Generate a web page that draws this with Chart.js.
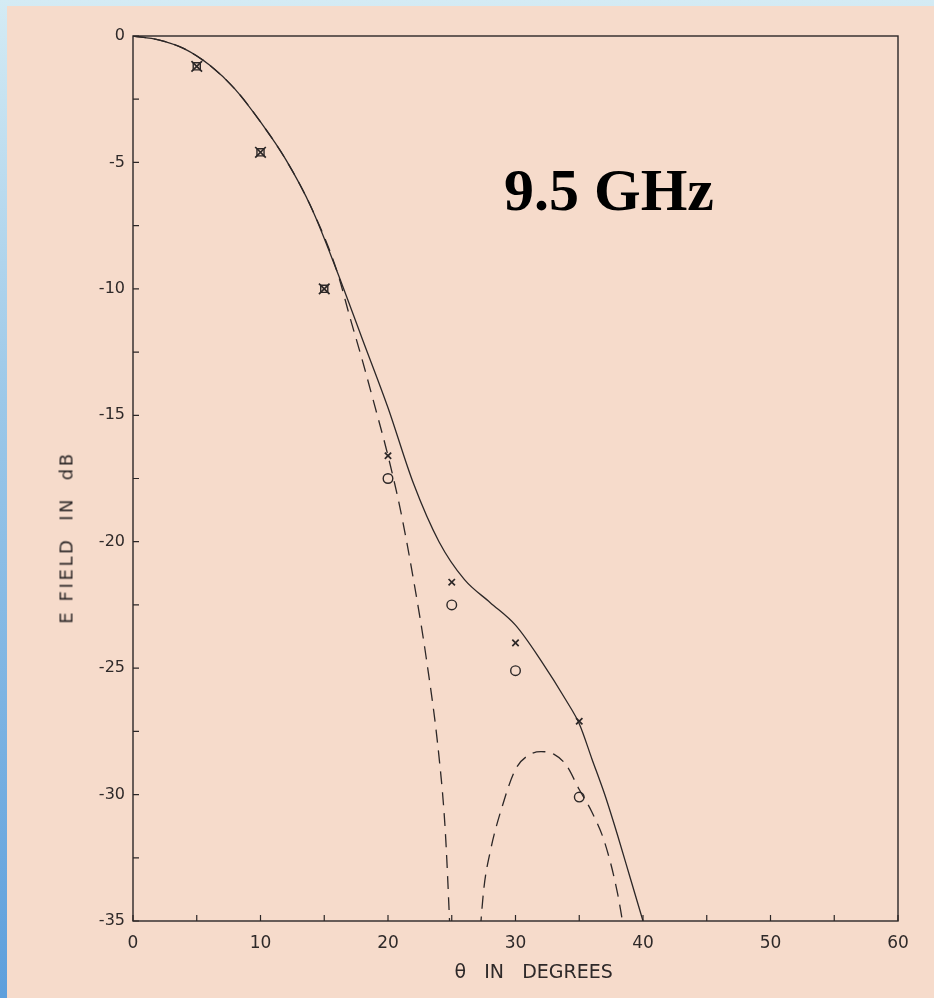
<!DOCTYPE html>
<html>
<head>
<meta charset="utf-8">
<script src="https://cdn.jsdelivr.net/npm/chart.js@4.4.1/dist/chart.umd.min.js"></script>
<style>
  html, body { margin: 0; padding: 0; }
  body {
    width: 934px; height: 998px; overflow: hidden; position: relative;
    background: linear-gradient(180deg, #d4ebf4 0%, #9cc8e8 40%, #5d9fdc 100%);
  }
  #paper { position: absolute; left: 7px; top: 6px; right: 0; bottom: 0; background: #f6dbcb; }
  #chart { position: absolute; left: 0; top: 0; }
  #ytitle {
    position: absolute; left: -54px; top: 527px; width: 240px; text-align: center;
    font: 18px "DejaVu Sans", sans-serif; letter-spacing: 2.6px; color: #2e2929;
    transform: rotate(-90deg); transform-origin: center; white-space: pre;
  }
  #freq {
    position: absolute; left: 504px; top: 156px;
    font: bold 60px "Liberation Serif", "Times New Roman", serif; color: #000;
  }
</style>
</head>
<body>
<div id="paper"></div>
<canvas id="chart" width="934" height="998"></canvas>
<div id="ytitle">E FIELD  IN  dB</div>
<div id="freq">9.5 GHz</div>
<script>
/* E-field pattern at 9.5 GHz: two computed curves plus measured points */

const INK = '#2c2727';

// solid curve
const SOLID_THETA = [0, 2, 4, 6, 8, 10, 12, 14, 16, 18, 20, 22, 24, 26, 28, 30, 32, 34, 35, 36, 37, 38, 39, 40];
const SOLID_DB = [0, -0.15, -0.5, -1.15, -2.1, -3.4, -4.9, -6.8, -9.3, -12.0, -14.7, -17.7, -20.0, -21.5, -22.4, -23.3, -24.7, -26.3, -27.2, -28.6, -30.0, -31.6, -33.3, -35];

// dashed curve (main lobe, null, second lobe)
const DASH_THETA = [0, 2, 4, 6, 8, 10, 12, 14, 16, 17, 18, 19, 20, 21, 22, 23, 24, 24.5, 25,
  26, 27, 27.5, 28, 29, 30, 31, 32, 33, 34, 35, 36, 37, 38, 38.5, 39];
const DASH_DB = [0, -0.15, -0.5, -1.15, -2.1, -3.4, -4.9, -6.8, -9.3, -11.1, -12.85, -14.7, -16.6, -18.8, -21.5, -24.6, -28.5, -31.5, -37,
  null, -37, -33.8, -32.3, -30.4, -29.0, -28.45, -28.3, -28.4, -28.85, -29.8, -30.7, -31.9, -33.9, -35.4, -37.5];

// measured points
const MEAS_THETA = [5, 10, 15, 20, 25, 30, 35];
const CROSS_DB = [-1.2, -4.6, -10.0, -16.6, -21.6, -24.0, -27.1];
const CIRCLE_DB = [-1.2, -4.6, -10.0, -17.5, -22.5, -25.1, -30.1];

const X_TICKS = [0, 10, 20, 30, 40, 50, 60];
const Y_TICKS = [0, -5, -10, -15, -20, -25, -30, -35];

const pts = (xs, ys) => xs.map((x, i) => ({ x, y: ys[i] }));
const coincident = ctx => ctx.raw && ctx.raw.x <= 15;

// box frame + inward tick marks
const frame = {
  id: 'frame',
  afterDraw(chart) {
    const { ctx, chartArea: a, scales } = chart;
    ctx.save();
    ctx.strokeStyle = INK;
    ctx.lineWidth = 1.4;
    ctx.strokeRect(a.left, a.top, a.right - a.left, a.bottom - a.top);
    ctx.lineWidth = 1.2;
    ctx.beginPath();
    scales.x.ticks.forEach(t => {
      const px = scales.x.getPixelForValue(t.value);
      ctx.moveTo(px, a.bottom);
      ctx.lineTo(px, a.bottom - 6);
    });
    scales.y.ticks.forEach(t => {
      const py = scales.y.getPixelForValue(t.value);
      ctx.moveTo(a.left, py);
      ctx.lineTo(a.left + 6, py);
    });
    ctx.stroke();
    ctx.restore();
  },
};

new Chart(document.getElementById('chart'), {
  type: 'line',
  data: {
    datasets: [
      {
        label: 'solid', data: pts(SOLID_THETA, SOLID_DB),
        borderColor: INK, borderWidth: 1.3, pointRadius: 0,
        cubicInterpolationMode: 'monotone', fill: false,
      },
      {
        label: 'dashed', data: pts(DASH_THETA, DASH_DB),
        borderColor: INK, borderWidth: 1.3, borderDash: [13, 8], pointRadius: 0,
        cubicInterpolationMode: 'monotone', spanGaps: false, fill: false,
      },
      {
        label: 'x', data: pts(MEAS_THETA, CROSS_DB), showLine: false,
        pointStyle: 'crossRot', pointRadius: ctx => coincident(ctx) ? 7.5 : 4.5,
        pointBorderColor: INK, pointBorderWidth: 1.7,
      },
      {
        label: 'o', data: pts(MEAS_THETA, CIRCLE_DB), showLine: false,
        pointStyle: ctx => coincident(ctx) ? 'rect' : 'circle',
        pointRadius: ctx => coincident(ctx) ? 5 : 4.8,
        pointBorderColor: INK, pointBackgroundColor: 'rgba(0,0,0,0)', pointBorderWidth: 1.4,
      },
    ],
  },
  options: {
    responsive: false,
    animation: false,
    events: [],
    layout: { padding: { left: 0, top: 36, right: 36, bottom: 0 } },
    plugins: { legend: { display: false }, tooltip: { enabled: false } },
    scales: {
      x: {
        type: 'linear', min: 0, max: 60,
        afterFit: s => { s.height = 77; },
        border: { display: false },
        grid: { display: false, drawTicks: false },
        ticks: {
          stepSize: 5, padding: 12, color: '#2e2929', maxRotation: 0,
          font: { family: 'DejaVu Sans', size: 17 },
          callback: v => X_TICKS.includes(v) ? String(v) : '',
        },
        title: {
          display: true, text: '      θ   IN   DEGREES', color: '#2e2929',
          font: { family: 'DejaVu Sans', size: 19 }, padding: { top: 0, bottom: 14 },
        },
      },
      y: {
        type: 'linear', min: -35, max: 0,
        afterFit: s => { s.width = 133; },
        border: { display: false },
        grid: { display: false, drawTicks: false },
        ticks: {
          stepSize: 2.5, padding: 8, color: '#2e2929',
          font: { family: 'DejaVu Sans', size: 16 },
          callback: v => Y_TICKS.includes(v) ? (v === 0 ? '0' : '-' + Math.abs(v)) : '',
        },
      },
    },
  },
  plugins: [frame],
});
</script>
</body>
</html>
